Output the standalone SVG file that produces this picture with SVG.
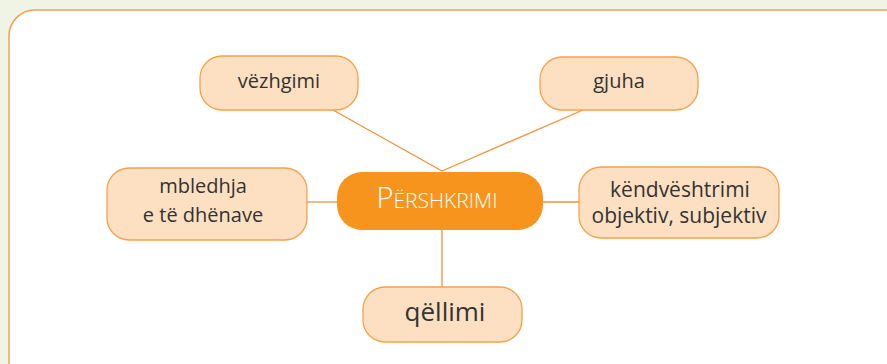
<svg xmlns="http://www.w3.org/2000/svg" width="887" height="364" viewBox="0 0 887 364">
<style>
.node rect{fill:#fde0c2;stroke:#f7a14a;stroke-width:1.3}
.t{font-family:"Open Sans","DejaVu Sans",sans-serif;fill:#333;text-anchor:middle;font-size:20px}
.c line{stroke:#f3923a;stroke-width:1.3}
</style>
<rect x="0" y="0" width="887" height="364" fill="#eff4e5"/>
<rect x="9" y="10" width="910" height="380" rx="26" fill="#fff" stroke="#f7a14a" stroke-width="1.5"/>
<g class="c">
<line x1="333" y1="110" x2="442" y2="171"/>
<line x1="583" y1="110" x2="442" y2="171"/>
<line x1="307" y1="202" x2="337" y2="202"/>
<line x1="543" y1="202" x2="579" y2="202"/>
<line x1="442" y1="230" x2="442" y2="287"/>
</g>
<g id="vezhgimi" class="node"><rect x="200" y="56" width="158" height="54" rx="22"/><text class="t" x="279" y="88">vëzhgimi</text></g>
<g id="gjuha" class="node"><rect x="540" y="57" width="158" height="53" rx="22"/><text class="t" x="619" y="88">gjuha</text></g>
<g id="mbledhja" class="node"><rect x="107" y="168" width="200" height="72" rx="22"/><text class="t" x="203" y="193">mbledhja</text><text class="t" x="203" y="222">e të dhënave</text></g>
<g id="pershkrimi"><rect x="337" y="172" width="206" height="58" rx="25" fill="#f7941d"/><text x="437" y="208" font-family="Open Sans,DejaVu Sans,sans-serif" fill="#fff" text-anchor="middle" font-size="29" font-weight="300">P<tspan font-size="21">ËRSHKRIMI</tspan></text></g>
<g id="kendveshtrimi" class="node"><rect x="579" y="167" width="200" height="71" rx="22"/><text class="t" x="680" y="197" font-size="21px" style="font-size:21px">këndvështrimi</text><text class="t" x="679" y="223" style="font-size:21px">objektiv, subjektiv</text></g>
<g id="qellimi" class="node"><rect x="363" y="287" width="159" height="55" rx="22"/><text class="t" x="445" y="321" style="font-size:26px">qëllimi</text></g>
</svg>
